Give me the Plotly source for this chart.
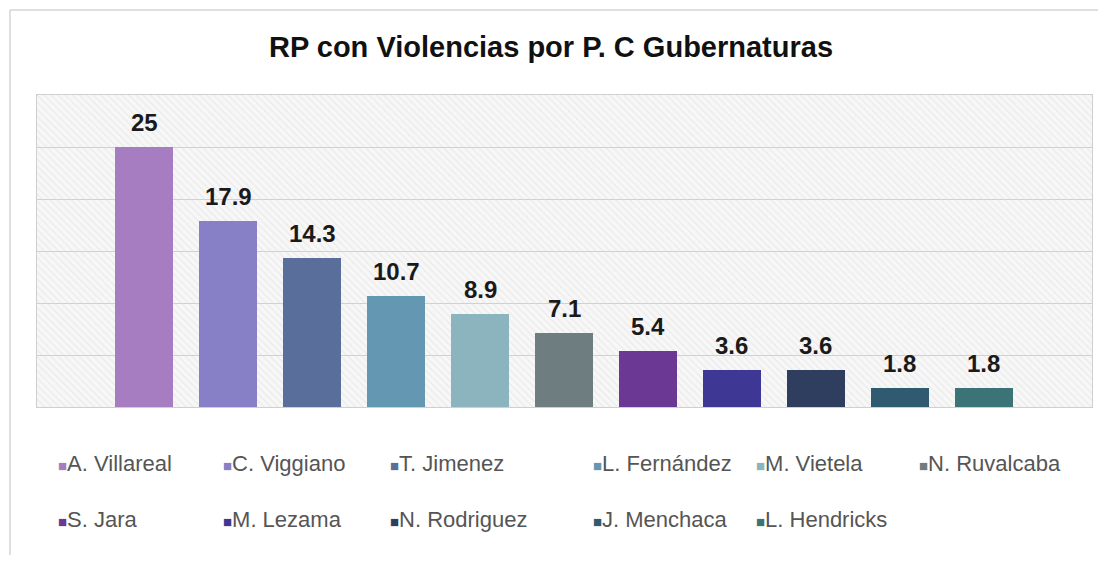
import plotly.graph_objects as go

names = ["A. Villareal", "C. Viggiano", "T. Jimenez", "L. Fernández", "M. Vietela",
         "N. Ruvalcaba", "S. Jara", "M. Lezama", "N. Rodriguez", "J. Menchaca", "L. Hendricks"]
values = [25, 17.9, 14.3, 10.7, 8.9, 7.1, 5.4, 3.6, 3.6, 1.8, 1.8]
colors = ["#A77DC2", "#8780C6", "#5A6E9C", "#6497B1", "#8CB4BE", "#6E7D80",
          "#6B3893", "#3E3793", "#2F3E5E", "#2F5A70", "#3C7376"]
title_text = "RP con Violencias por P. C Gubernaturas"
y_ticks = [0, 5, 10, 15, 20, 25, 30]

# legend layout (column x / row y in page px)
legend_cols = [56, 221, 388, 591, 754, 917]
legend_rows = [463, 519]

OFF = 8                      # browser body margin
W, H = 1090, 547
ml, mr, mt, mb = 29, 6, 87, 148
pw, ph = W - ml - mr, H - mt - mb
xr = [-1.274, 11.286]


def px_x(p):  # page px -> paper x
    return (p - OFF - ml) / pw


def px_y(p):  # page px -> paper y
    return 1 - (p - OFF - mt) / ph


fig = go.Figure()
xs = list(range(len(names)))

# hatched plot background
fig.add_trace(go.Bar(
    x=[(xr[0] + xr[1]) / 2], y=[y_ticks[-1]], width=[xr[1] - xr[0]],
    marker=dict(color="rgba(0,0,0,0)", line=dict(width=0),
                pattern=dict(shape="\\", fgcolor="#dedede", bgcolor="rgba(0,0,0,0)",
                             size=5, solidity=0.25)),
    hoverinfo="skip", showlegend=False))

fig.add_trace(go.Bar(
    x=xs, y=values, width=0.69,
    marker=dict(color=colors, line=dict(width=0)),
    showlegend=False, hovertext=names))

for x, v in zip(xs, values):
    fig.add_annotation(x=x, y=v, text=f"<b>{v:g}</b>", showarrow=False,
                       xref="x", yref="y", yanchor="bottom", yshift=9,
                       font=dict(family="Liberation Sans, Arial", size=24, color="#1a1a1a"))

for i, (n, c) in enumerate(zip(names, colors)):
    row = i // 6
    col = i % 6
    fig.add_annotation(x=px_x(legend_cols[col]), y=px_y(legend_rows[row]),
                       xref="paper", yref="paper", xanchor="left", yanchor="middle",
                       showarrow=False,
                       text=f"<span style='color:{c};font-size:15px'>■</span>{n}",
                       font=dict(family="Liberation Sans, Arial", size=22, color="#555555"))

# outer chart border (left and top edges)
fig.add_shape(type="line", xref="paper", yref="paper",
              x0=px_x(10), x1=px_x(10), y0=px_y(575), y1=px_y(10),
              line=dict(color="#d4d4d4", width=1.5))
fig.add_shape(type="line", xref="paper", yref="paper",
              x0=px_x(10), x1=px_x(1110), y0=px_y(10), y1=px_y(10),
              line=dict(color="#d4d4d4", width=1.5))

fig.update_layout(
    width=W, height=H,
    margin=dict(l=ml, r=mr, t=mt, b=mb),
    paper_bgcolor="white", plot_bgcolor="#f7f7f7",
    barmode="overlay", bargap=0,
    title=dict(text=f"<b>{title_text}</b>", x=px_x(551), xref="paper", xanchor="center",
               y=1 - (47 - OFF) / H, yanchor="middle",
               font=dict(family="Liberation Sans, Arial", size=29, color="#111111")),
    xaxis=dict(range=xr, showticklabels=False, showgrid=False, zeroline=False,
               showline=True, mirror=True, linecolor="#cfcfcf", linewidth=1, ticks=""),
    yaxis=dict(range=[y_ticks[0], y_ticks[-1]], tickvals=y_ticks, showticklabels=False,
               showgrid=True, gridcolor="#cfcfcf", gridwidth=1, zeroline=False,
               showline=True, mirror=True, linecolor="#cfcfcf", linewidth=1, ticks=""),
)

fig.write_html("out.html")
